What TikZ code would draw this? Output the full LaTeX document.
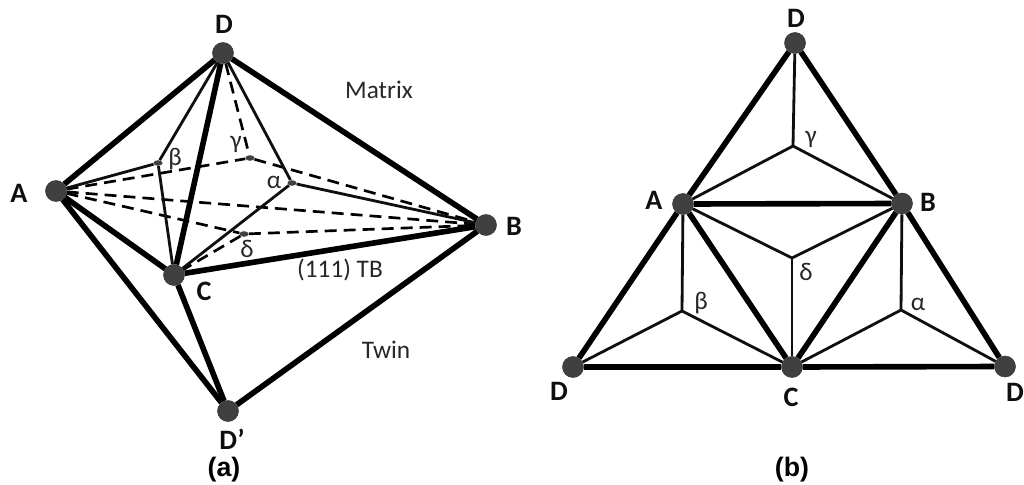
\documentclass[tikz,border=0pt]{standalone}
\usepackage{fontspec}
\setmainfont{Carlito}
\newfontfamily\capfont{Liberation Sans}
\usetikzlibrary{backgrounds, shapes.geometric}
\definecolor{DG}{RGB}{64,64,64}
\definecolor{LK}{RGB}{15,15,15}
\tikzset{
  atom/.style={circle, fill=DG, draw=DG!80!black, line width=0.3pt, minimum size=15pt, inner sep=0pt},
  site/.style={ellipse, fill=DG, minimum width=6.5pt, minimum height=4pt, inner sep=0pt},
  thickedge/.style={black, line width=4pt},
  thinedge/.style={LK, line width=2pt},
  dashedge/.style={black, line width=1.9pt, dash pattern=on 8.5pt off 5pt},
  vertexlab/.style={font=\fontsize{20}{22}\selectfont\bfseries, text=LK, inner sep=0pt},
  plainlab/.style={font=\fontsize{18}{20}\selectfont, text=DG!60!black, inner sep=0pt},
  panellab/.style={font=\capfont\fontsize{19}{21}\selectfont\bfseries, text=black, inner sep=0pt}
}
\begin{document}
\begin{tikzpicture}[x=0.025cm, y=-0.025cm]
\useasboundingbox (0,0) rectangle (1024,485);

% panel (a)
\node[atom] (Da) at (223,53) {};
\node[atom] (Aa) at (56,191) {};
\node[atom] (Ba) at (486,225) {};
\node[atom] (Ca) at (174,275) {};
\node[atom] (Dp) at (228,411) {};
\node[site] (beta-a) at (158,163) {};
\node[site] (gamma-a) at (250,158) {};
\node[site] (alpha-a) at (292,183) {};
\node[site] (delta-a) at (244,234) {};

\begin{scope}[on background layer]
\draw[dashedge] (Aa) -- (gamma-a);
\draw[dashedge] (Aa) -- (Ba);
\draw[dashedge] (Aa) -- (delta-a);
\draw[dashedge] (Da) -- (gamma-a);
\draw[dashedge] (gamma-a) -- (Ba);
\draw[dashedge] (delta-a) -- (Ba);
\draw[dashedge] (delta-a) -- (Ca);
\draw[thinedge] (Aa) -- (beta-a);
\draw[thinedge] (Da) -- (beta-a);
\draw[thinedge] (Ca) -- (beta-a);
\draw[thinedge] (Da) -- (alpha-a);
\draw[thinedge] (Ca) -- (alpha-a);
\draw[thinedge] (Ba) -- (alpha-a);
\draw[thickedge] (Aa) -- (Da);
\draw[thickedge] (Da) -- (Ba);
\draw[thickedge] (Da) -- (Ca);
\draw[thickedge] (Aa) -- (Ca);
\draw[thickedge] (Ca) -- (Ba);
\draw[thickedge] (Aa) -- (Dp);
\draw[thickedge] (Ca) -- (Dp);
\draw[thickedge] (Ba) -- (Dp);
\end{scope}

\node[vertexlab] (lab-Da) at (224,24) {D};
\node[vertexlab] (lab-Aa) at (19,193) {A};
\node[vertexlab] (lab-Ba) at (514,226) {B};
\node[vertexlab] (lab-Ca) at (204,291) {C};
\node[vertexlab] (lab-Dp) at (232,439) {D’};
\node[plainlab] (lab-beta-a) at (175,159) {β};
\node[plainlab] (lab-gamma-a) at (236,144) {γ};
\node[plainlab] (lab-alpha-a) at (274,182) {α};
\node[plainlab] (lab-delta-a) at (247,249) {δ};
\node[plainlab] (matrix) at (379,90) {Matrix};
\node[plainlab] (tb) at (340,270) {(111) TB};
\node[plainlab] (twin) at (386,350) {Twin};
\node[panellab] (cap-a) at (224,470) {(a)};

% panel (b)
\node[atom] (Dt) at (795,43) {};
\node[atom] (Ab) at (683,204) {};
\node[atom] (Bb) at (902,203.5) {};
\node[atom] (Cb) at (792,367) {};
\node[atom] (Dl) at (573,367) {};
\node[atom] (Dr) at (1005,366.5) {};
\coordinate (gamma-b) at (793,146);
\coordinate (delta-b) at (792,258);
\coordinate (beta-b) at (682,311);
\coordinate (alpha-b) at (901,310);

\begin{scope}[on background layer]
\draw[thinedge] (Dt) -- (gamma-b);
\draw[thinedge] (Ab) -- (gamma-b);
\draw[thinedge] (Bb) -- (gamma-b);
\draw[thinedge] (Ab) -- (delta-b);
\draw[thinedge] (Bb) -- (delta-b);
\draw[thinedge] (Cb) -- (delta-b);
\draw[thinedge] (Ab) -- (beta-b);
\draw[thinedge] (Dl) -- (beta-b);
\draw[thinedge] (Cb) -- (beta-b);
\draw[thinedge] (Bb) -- (alpha-b);
\draw[thinedge] (Cb) -- (alpha-b);
\draw[thinedge] (Dr) -- (alpha-b);
\draw[thickedge] (Dt) -- (Ab);
\draw[thickedge] (Dt) -- (Bb);
\draw[thickedge] (Ab) -- (Bb);
\draw[thickedge] (Ab) -- (Dl);
\draw[thickedge] (Ab) -- (Cb);
\draw[thickedge] (Bb) -- (Cb);
\draw[thickedge] (Bb) -- (Dr);
\draw[thickedge] (Dl) -- (Cb);
\draw[thickedge] (Cb) -- (Dr);
\end{scope}

\node[vertexlab] (lab-Dt) at (796,18) {D};
\node[vertexlab] (lab-Ab) at (654,200) {A};
\node[vertexlab] (lab-Bb) at (928,202) {B};
\node[vertexlab] (lab-Cb) at (791,397) {C};
\node[vertexlab] (lab-Dl) at (559,391) {D};
\node[vertexlab] (lab-Dr) at (1015,392) {D};
\node[plainlab] (lab-gamma-b) at (811,139) {γ};
\node[plainlab] (lab-delta-b) at (806,272) {δ};
\node[plainlab] (lab-beta-b) at (701,303) {β};
\node[plainlab] (lab-alpha-b) at (918,304) {α};
\node[panellab] (cap-b) at (792,470) {(b)};
\end{tikzpicture}
\end{document}
